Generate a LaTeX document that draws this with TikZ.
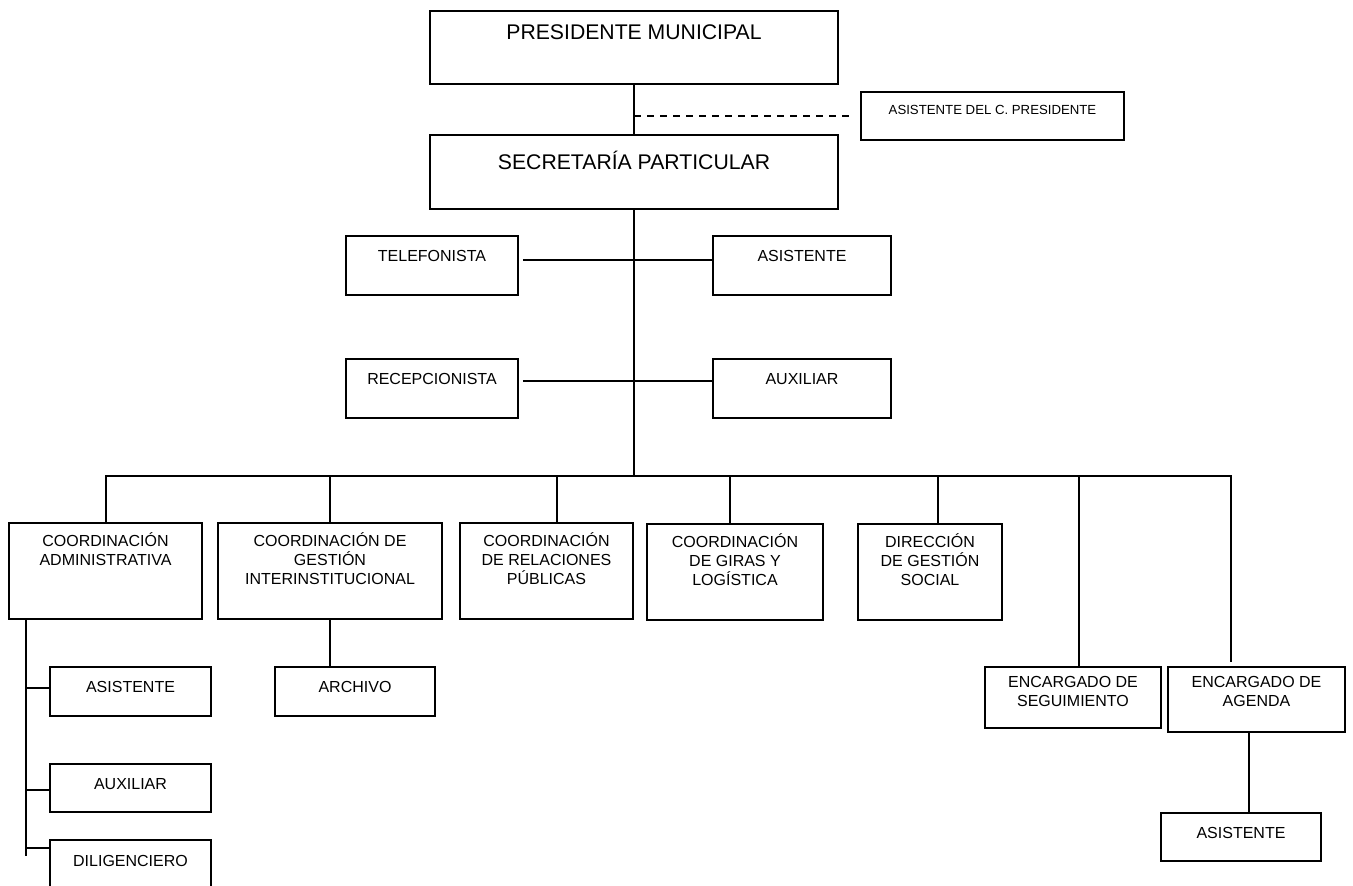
\documentclass[tikz,border=0pt]{standalone}
\usepackage{fontspec}
\setmainfont{Liberation Sans}
\usetikzlibrary{positioning}
\tikzstyle{box} = [rectangle, draw=black, line width=1.7pt, inner sep=0pt]
\tikzstyle{txt} = [inner sep=0pt, align=center, font=\fontsize{16}{19}\selectfont, execute at begin node={\rule{0pt}{16pt}}]
\tikzstyle{bigtxt} = [inner sep=0pt, align=center, font=\fontsize{21.2}{24}\selectfont, execute at begin node={\rule{0pt}{21pt}}]
\tikzstyle{smalltxt} = [inner sep=0pt, align=center, font=\fontsize{13.2}{16}\selectfont, execute at begin node={\rule{0pt}{13.5pt}}]
\tikzstyle{link} = [line width=1.7pt]
\tikzstyle{dashlink} = [link, dash pattern=on 7pt off 6pt]
\begin{document}
\begin{tikzpicture}[x=1pt, y=-1pt]
\path[use as bounding box, clip] (0,0) rectangle (1353,886);
% top of the chart
\node (pres) [box, minimum width=408pt, minimum height=73pt] at (634,47.5) {};
\node (pres-t) [bigtxt, below=8pt of pres.north] {PRESIDENTE MUNICIPAL};
\node (asisp) [box, minimum width=263pt, minimum height=48pt] at (992.5,116) {};
\node (asisp-t) [smalltxt, below=9.2pt of asisp.north] {ASISTENTE DEL C. PRESIDENTE};
\node (secp) [box, minimum width=408pt, minimum height=74pt] at (634,172) {};
\node (secp-t) [bigtxt, below=14pt of secp.north] {SECRETARÍA PARTICULAR};
% staff of the secretary
\node (tel) [box, minimum width=172pt, minimum height=59pt] at (432,265.5) {};
\node (tel-t) [txt, below=10.5pt of tel.north] {TELEFONISTA};
\node (asis) [box, minimum width=178pt, minimum height=59pt] at (802,265.5) {};
\node (asis-t) [txt, below=10.5pt of asis.north] {ASISTENTE};
\node (recep) [box, minimum width=172pt, minimum height=59pt] at (432,388.5) {};
\node (recep-t) [txt, below=10.5pt of recep.north] {RECEPCIONISTA};
\node (aux) [box, minimum width=178pt, minimum height=59pt] at (802,388.5) {};
\node (aux-t) [txt, below=10.5pt of aux.north] {AUXILIAR};
% coordinations
\node (admin) [box, minimum width=193pt, minimum height=96pt] at (105.5,571) {};
\node (admin-t) [txt, below=10pt of admin.north] {COORDINACIÓN\\ADMINISTRATIVA};
\node (gest) [box, minimum width=224pt, minimum height=96pt] at (330,571) {};
\node (gest-t) [txt, below=10pt of gest.north] {COORDINACIÓN DE\\GESTIÓN\\INTERINSTITUCIONAL};
\node (rel) [box, minimum width=173pt, minimum height=96pt] at (546.5,571) {};
\node (rel-t) [txt, below=10pt of rel.north] {COORDINACIÓN\\DE RELACIONES\\PÚBLICAS};
\node (giras) [box, minimum width=176pt, minimum height=96pt] at (735,572) {};
\node (giras-t) [txt, below=10.5pt of giras.north] {COORDINACIÓN\\DE GIRAS Y\\LOGÍSTICA};
\node (dir) [box, minimum width=144pt, minimum height=96pt] at (930,572) {};
\node (dir-t) [txt, below=10.5pt of dir.north] {DIRECCIÓN\\DE GESTIÓN\\SOCIAL};
\node (seg) [box, minimum width=176pt, minimum height=61pt] at (1073,697.5) {};
\node (seg-t) [txt, below=10pt of seg.north] {ENCARGADO DE\\SEGUIMIENTO};
\node (agenda) [box, minimum width=177pt, minimum height=65pt] at (1256.5,699.5) {};
\node (agenda-t) [txt, below=10pt of agenda.north] {ENCARGADO DE\\AGENDA};
\node (agasis) [box, minimum width=160pt, minimum height=48pt] at (1241,837) {};
\node (agasis-t) [txt, below=10pt of agasis.north] {ASISTENTE};
% under the coordinations
\node (asisadm) [box, minimum width=161pt, minimum height=49pt] at (130.5,691.5) {};
\node (asisadm-t) [txt, below=10.5pt of asisadm.north] {ASISTENTE};
\node (auxadm) [box, minimum width=161pt, minimum height=48pt] at (130.5,788) {};
\node (auxadm-t) [txt, below=10.5pt of auxadm.north] {AUXILIAR};
\node (dilig) [box, minimum width=161pt, minimum height=60pt] at (130.5,870) {};
\node (dilig-t) [txt, below=11.5pt of dilig.north] {DILIGENCIERO};
\node (arch) [box, minimum width=160pt, minimum height=49pt] at (355,691.5) {};
\node (arch-t) [txt, below=10.5pt of arch.north] {ARCHIVO};
% lines
\coordinate (bus) at (634,476);
\coordinate (b1) at (106,476);
\coordinate (b2) at (330,476);
\coordinate (b3) at (557,476);
\coordinate (b4) at (730,476);
\coordinate (b5) at (938,476);
\coordinate (b6) at (1079,476);
\coordinate (b7) at (1231,476);
\coordinate (l0) at (26,619);
\coordinate (l1) at (26,856);
\draw [link] (pres.south) -- (secp.north);
\draw [dashlink] (pres.south |- asisp.west) -- ([xshift=-9pt]asisp.west);
\draw [link] (secp.south) -- (bus);
\draw [link] ([xshift=4pt, yshift=5.5pt]tel.east) -- ([yshift=5.5pt]asis.west);
\draw [link] ([xshift=4pt, yshift=7.5pt]recep.east) -- ([yshift=7.5pt]aux.west);
\draw [link] (b1 |- admin.north) -- (b1) -- (b7) -- ([yshift=4pt]b7 |- agenda.north);
\draw [link] (b2) -- (b2 |- gest.north);
\draw [link] (b3) -- (b3 |- rel.north);
\draw [link] (b4) -- (b4 |- giras.north);
\draw [link] (b5) -- (b5 |- dir.north);
\draw [link] (b6) -- (b6 |- seg.north);
\draw [link] (l0) -- (l1);
\draw [link] ([yshift=3.5pt]asisadm.west) -| (l0);
\draw [link] ([yshift=-2pt]auxadm.west) -| (l0);
\draw [link] ([yshift=-9pt]dilig.north west) -| (l0);
\draw [link] (gest.south) -- (gest.south |- arch.north);
\draw [link] ([xshift=-7.5pt]agenda.south) -- ([xshift=-7.5pt]agenda.south |- agasis.north);
\end{tikzpicture}
\end{document}
